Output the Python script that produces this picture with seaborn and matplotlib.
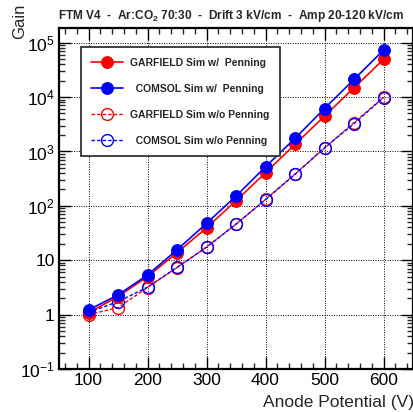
import matplotlib
matplotlib.use("Agg")
import matplotlib.pyplot as plt
import matplotlib.ticker as mticker
import seaborn as sns
import numpy as np

# ---- data ----
anode_v = [100, 150, 200, 250, 300, 350, 400, 450, 500, 550, 600]
garfield_pen = [1.08, 2.15, 5.0, 13.7, 39.5, 124, 406, 1350, 4470, 14800, 49300]
comsol_pen = [1.22, 2.3, 5.35, 15.5, 47.6, 151, 523, 1740, 6160, 21100, 73100]
garfield_nopen = [1.0, 1.34, 3.15, 7.3, 17.5, 46, 131, 385, 1150, 3400, 9900]
comsol_nopen = [1.1, 1.73, 3.2, 7.4, 17.3, 46, 130, 380, 1170, 3250, 9800]

labels = ["GARFIELD Sim w/  Penning", "  COMSOL Sim w/  Penning",
          "GARFIELD Sim w/o Penning", "  COMSOL Sim w/o Penning"]
title = r"FTM V4  -  Ar:CO$_\mathregular{2}$ 70:30  -  Drift 3 kV/cm  -  Amp 20-120 kV/cm"
ytick_vals = [1e-1, 1, 10, 1e2, 1e3, 1e4, 1e5]
ytick_labels = [r"$\mathregular{10^{-1}}$", "1", "10", r"$\mathregular{10^{2}}$",
                r"$\mathregular{10^{3}}$", r"$\mathregular{10^{4}}$", r"$\mathregular{10^{5}}$"]
xtick_vals = [100, 200, 300, 400, 500, 600]

sns.set_style("ticks")
plt.rcParams["font.family"] = ["Liberation Sans", "DejaVu Sans"]
plt.rcParams["mathtext.fontset"] = "custom"
plt.rcParams["mathtext.rm"] = "Liberation Sans"
plt.rcParams["mathtext.it"] = "Liberation Sans:italic"
plt.rcParams["mathtext.bf"] = "Liberation Sans:bold"

fig = plt.figure(figsize=(4.14, 4.12), dpi=100)
ax = fig.add_axes([59/414, 1-369/412, (413-59)/414, (369-28)/412])

RED = "#ff0000"
BLUE = "#0000ff"
ms = 8.5

sns.lineplot(x=anode_v, y=garfield_nopen, ax=ax, color=RED, lw=1.0,
             linestyle=(0, (2.5, 1.5)), marker="o", markersize=ms,
             markerfacecolor="none", markeredgecolor=RED, markeredgewidth=1.0)
sns.lineplot(x=anode_v, y=comsol_nopen, ax=ax, color=BLUE, lw=1.0,
             linestyle=(0, (2.5, 1.5)), marker="o", markersize=ms,
             markerfacecolor="none", markeredgecolor=BLUE, markeredgewidth=1.0)
sns.lineplot(x=anode_v, y=garfield_pen, ax=ax, color=RED, lw=1.2,
             marker="o", markersize=ms, markeredgecolor=RED, markerfacecolor=RED)
sns.lineplot(x=anode_v, y=comsol_pen, ax=ax, color=BLUE, lw=1.2,
             marker="o", markersize=ms, markeredgecolor=BLUE, markerfacecolor=BLUE)

lines = ax.get_lines()
line_gn, line_cn, line_gp, line_cp = lines[0], lines[1], lines[2], lines[3]

ax.set_yscale("log")
ax.set_xlim(50, 650)
ax.set_ylim(1e-1, 10**5.27)

ax.set_xticks(xtick_vals)
ax.set_xticklabels([str(v) for v in xtick_vals])
ax.xaxis.set_minor_locator(mticker.MultipleLocator(20))
ax.set_yticks(ytick_vals)
ax.set_yticklabels(ytick_labels)
ax.yaxis.set_minor_locator(mticker.LogLocator(base=10, subs=np.arange(2, 10), numticks=20))
ax.yaxis.set_minor_formatter(mticker.NullFormatter())

ax.tick_params(which="major", direction="in", length=8.5, width=1.0,
               top=True, right=True, labelsize=12.5, pad=3, colors="black")
ax.tick_params(which="minor", direction="in", length=4.3, width=1.0,
               top=True, right=True)
for s in ax.spines.values():
    s.set_linewidth(1.6)
    s.set_color("black")

ax.grid(True, which="major", color="black", linestyle=(0, (1, 1.5)), linewidth=0.7)
ax.set_xlabel("")
ax.set_ylabel("")

fig.text(20/414, 1-4/412, "Gain", rotation=90, ha="center", va="top", fontsize=12)
fig.text(1.0, 1-402/412, "Anode Potential (V)", ha="right", va="center", fontsize=12.5)
fig.text(231/414, 1-16/412, title, ha="center", va="center", fontsize=8.6, fontweight="bold")

leg = ax.legend([line_gp, line_cp, line_gn, line_cn], labels,
                loc="upper left", bbox_to_anchor=(0.062, 0.944),
                prop={"weight": "bold", "size": 7.5},
                frameon=True, fancybox=False, shadow=False,
                handlelength=3.0, handletextpad=0.7, labelspacing=1.55,
                borderpad=1.0, borderaxespad=0.0, markerscale=1.0)
leg.get_frame().set_edgecolor("#333333")
leg.get_frame().set_linewidth(1.3)
leg.get_frame().set_alpha(1.0)

fig.savefig("out.png", dpi=100)
